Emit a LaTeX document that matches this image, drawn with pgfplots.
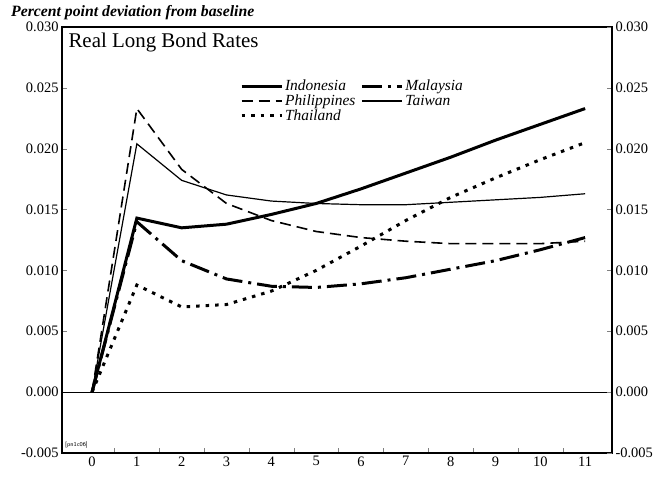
\documentclass[border=0pt]{standalone}
\usepackage{fontspec}
\setmainfont{Liberation Serif}
\usepackage{pgfplots}
\pgfplotsset{compat=1.18}

% years after the shock, percent point deviation from baseline
\pgfplotstableread{
yr   indo    mal     phil    taiw    thai
0    0.0000  0.0000  0.0000  0.0000  0.0000
1    0.0143  0.0140  0.0233  0.0204  0.0088
2    0.0135  0.0108  0.0183  0.0174  0.0070
3    0.0138  0.0093  0.0155  0.0162  0.0072
4    0.0146  0.0087  0.0141  0.0157  0.0083
5    0.0155  0.0086  0.0132  0.0155  0.0100
6    0.0167  0.0089  0.0127  0.0154  0.0120
7    0.0180  0.0094  0.0124  0.0154  0.0141
8    0.0193  0.0101  0.0122  0.0156  0.0160
9    0.0207  0.0108  0.0122  0.0158  0.0176
10   0.0220  0.0117  0.0122  0.0160  0.0191
11   0.0233  0.0127  0.0124  0.0163  0.0205
}\bondrates

\pgfplotsset{
  bondaxis/.style={
    scale only axis, width=550bp, height=426bp,
    xmin=-0.67, xmax=11.6, ymin=-0.005, ymax=0.030,
    ytick={-0.005,0,0.005,0.010,0.015,0.020,0.025,0.030},
    scaled y ticks=false,
    yticklabel style={/pgf/number format/.cd, fixed, fixed zerofill, precision=3},
    /pgf/number format/assume math mode=true,
    ticklabel style={font=\fontsize{14.5}{16}\selectfont},
    tick align=inside, major tick length=5bp,
    axis line style={line width=1.2bp},
  },
}

\begin{document}
\begin{tikzpicture}
\begin{axis}[bondaxis, name=main,
    xtick={0.5,1.5,...,10.5}, xticklabels={},
    xtick pos=bottom,
    extra x ticks={0,1,...,11},
    extra x tick labels={0,1,2,3,4,5,6,7,8,9,10,11},
    extra x tick style={tick style={draw=none}},
    legend columns=2, legend cell align=left,
    legend style={draw=none, fill=none, at={(0.318,0.885)}, anchor=north west,
      font=\itshape\fontsize{15.5}{17}\selectfont, row sep=-1.5bp,
      /tikz/every even column/.append style={column sep=3bp}},
    legend image code/.code={\draw[#1] (0bp,0bp) -- (40bp,0bp);},
  ]
  \addplot[black, line width=3bp] table[x=yr, y=indo] {\bondrates};
  \addlegendentry{Indonesia}
  \addplot[black, line width=3bp, dash pattern=on 20bp off 6bp on 3bp off 6bp] table[x=yr, y=mal] {\bondrates};
  \addlegendentry{Malaysia}
  \addplot[black, line width=1.6bp, dash pattern=on 11bp off 6bp] table[x=yr, y=phil] {\bondrates};
  \addlegendentry{Philippines}
  \addplot[black, line width=1.2bp] table[x=yr, y=taiw] {\bondrates};
  \addlegendentry{Taiwan}
  \addplot[black, line width=3bp, dash pattern=on 3.5bp off 6bp] table[x=yr, y=thai] {\bondrates};
  \addlegendentry{Thailand}
  \addplot[black, line width=1.2bp, forget plot] coordinates {(-0.67,0) (11.6,0)};
  \node[anchor=north west, font=\fontsize{21}{23}\selectfont]
    at ([xshift=3bp,yshift=-2bp]rel axis cs:0,1) {Real Long Bond Rates};
  \node[anchor=south west, font=\sffamily\fontsize{6}{7}\selectfont, inner sep=1bp]
    at ([xshift=2bp,yshift=4bp]rel axis cs:0,0) {[pn1c06]};
\end{axis}
\begin{axis}[bondaxis,
    axis x line=none, axis y line*=right,
    yticklabel pos=right,
  ]
\end{axis}
\node[anchor=base west, inner sep=0pt, font=\bfseries\itshape\fontsize{15.8}{17}\selectfont]
  at ([shift={(-51bp,10bp)}]main.north west) {Percent point deviation from baseline};
\pgfresetboundingbox
\path[use as bounding box] ([shift={(-62bp,-25bp)}]main.south west)
  rectangle ([shift={(60bp,27bp)}]main.north east);
\end{tikzpicture}
\end{document}
